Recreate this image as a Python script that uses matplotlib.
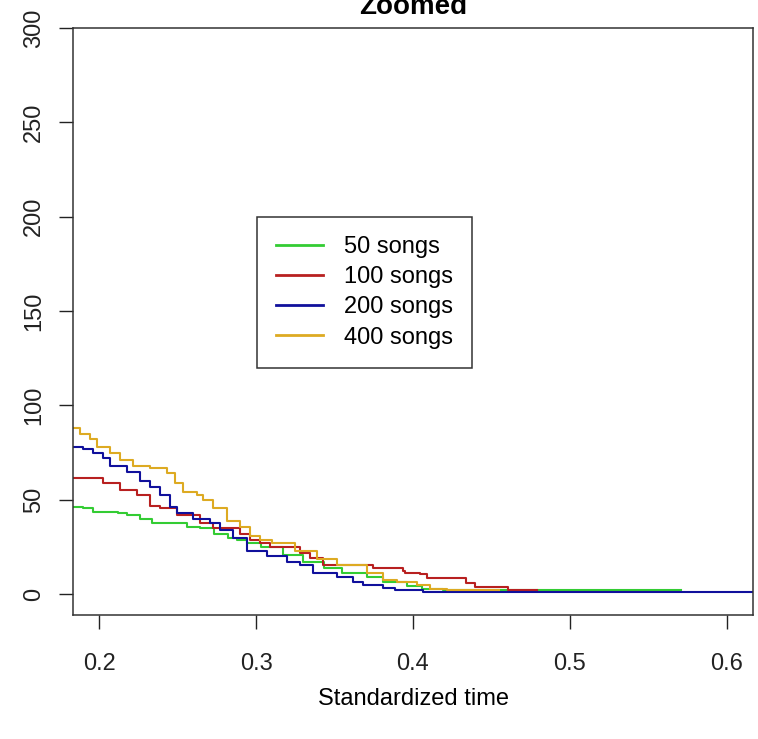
import matplotlib
matplotlib.use("Agg")
import matplotlib.pyplot as plt

plt.rcParams['font.family'] = ['Liberation Sans', 'DejaVu Sans']

# step curves: x where each step starts, and the value held from there
x50 = [0.180, 0.190, 0.196, 0.212, 0.218, 0.226, 0.234, 0.245, 0.256, 0.264, 0.273, 0.282, 0.288,
       0.294, 0.303, 0.317, 0.330, 0.343, 0.355, 0.371, 0.381, 0.396, 0.406, 0.419, 0.571]
y50 = [46, 45.5, 43.5, 43, 42, 40, 38, 37.5, 35.5, 35, 32, 30, 28.5,
       27, 25, 21, 17, 14, 11, 9, 6.5, 4.5, 3, 2, 2]

x100 = [0.180, 0.2025, 0.2134, 0.2242, 0.2325, 0.2389, 0.2497, 0.2643, 0.2726, 0.2898, 0.2962,
        0.3025, 0.3089, 0.328, 0.3344, 0.3427, 0.3745, 0.3936, 0.3949, 0.4045, 0.4089, 0.434,
        0.4395, 0.4605, 0.479]
y100 = [61.5, 59, 55, 52.5, 47, 45.5, 42, 37.5, 35, 32, 28.5,
        27, 25, 22, 19, 15.5, 14, 12.5, 11, 10.5, 8.5, 6,
        4, 2, 2]

x200 = [0.180, 0.1898, 0.1962, 0.2025, 0.207, 0.2178, 0.2261, 0.2325, 0.2389, 0.2452, 0.2497,
        0.2599, 0.2707, 0.2771, 0.2854, 0.2943, 0.307, 0.3197, 0.328, 0.3363, 0.3516, 0.3618,
        0.3682, 0.3809, 0.3885, 0.4064, 0.62]
y200 = [78, 77, 75, 72, 68, 65, 60, 57, 52.5, 46, 43,
        40, 38, 34, 30, 23, 20.5, 17, 15.5, 11, 9, 6.5,
        5, 3.5, 2, 1, 1]

x400 = [0.180, 0.1879, 0.1943, 0.1987, 0.207, 0.2134, 0.2217, 0.2325, 0.2433, 0.2484, 0.2535,
        0.2624, 0.2662, 0.2726, 0.2815, 0.2898, 0.2962, 0.3025, 0.310, 0.325, 0.3389, 0.3516,
        0.3707, 0.3809, 0.3898, 0.4025, 0.4108, 0.4217, 0.455]
y400 = [88, 85, 82, 78, 75, 71, 68, 67, 64, 59, 54,
        52.5, 50, 45.5, 39, 35.5, 31, 29, 27, 23, 18.5, 15.5,
        11.5, 7.5, 6.5, 5, 3, 2, 2]

labels = ["50 songs", "100 songs", "200 songs", "400 songs"]
colors = ["#33cc33", "#b82020", "#10109c", "#ddaa22"]

fig = plt.figure(figsize=(7.58, 7.39), dpi=100)
ax = fig.add_axes([73/758, 1-615/739, 680/758, 587/739])

for xs, ys, c, lab in zip([x50, x100, x200, x400], [y50, y100, y200, y400], colors, labels):
    ax.plot(xs, ys, drawstyle='steps-post', color=c, lw=1.5, label=lab)

ax.set_xlim(0.1834, 0.6166)
ax.set_ylim(-11, 300)
ax.set_xticks([0.2, 0.3, 0.4, 0.5, 0.6])
ax.set_xticklabels(["0.2", "0.3", "0.4", "0.5", "0.6"])
ax.set_yticks([0, 50, 100, 150, 200, 250, 300])
ax.tick_params(axis='both', direction='out', length=10, width=1, labelsize=17, colors='#222222')
ax.tick_params(axis='x', pad=17)
ax.tick_params(axis='y', pad=10)
for t in ax.get_yticklabels():
    t.set_rotation(90)
    t.set_va('center')
for s in ax.spines.values():
    s.set_linewidth(1.1)
    s.set_color('#333333')

ax.set_xlabel("Standardized time", fontsize=17, labelpad=10)
fig.text(413/758, 1-14/739, "Zoomed", ha='center', va='baseline', fontsize=20, fontweight='bold')

leg = ax.legend(loc='upper left', bbox_to_anchor=(257/758, 1-217/739), bbox_transform=fig.transFigure,
                borderaxespad=0, fontsize=17, frameon=True, fancybox=False, edgecolor='black',
                handlelength=2.0, handletextpad=0.9, labelspacing=0.35, borderpad=0.8)
leg.get_frame().set_linewidth(1.1)
for h in leg.get_lines():
    h.set_linewidth(2)

fig.savefig("out.png", dpi=100)
